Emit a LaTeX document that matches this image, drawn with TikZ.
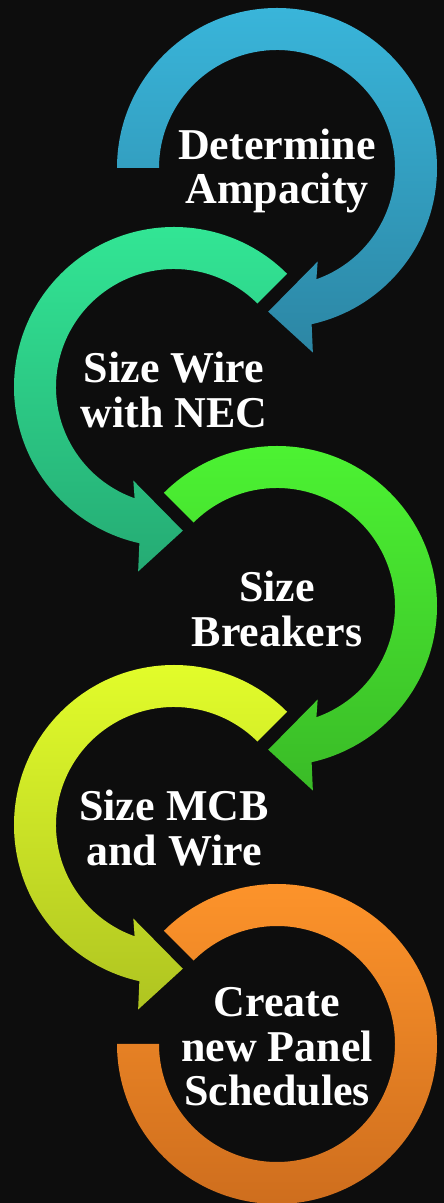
\documentclass[tikz,border=0pt]{standalone}
\usepackage{fontspec}
\setmainfont{Liberation Serif}
\begin{document}
\begin{tikzpicture}[x=1pt,y=1pt,
  lbl/.style={text=white, align=center, font=\bfseries\fontsize{44}{44.5}\selectfont, inner sep=0pt, yshift=-3pt},
  ringblue/.style={top color=blueT, bottom color=blueB, draw=none},
  ringteal/.style={top color=tealT, bottom color=tealB, draw=none},
  ringgreen/.style={top color=greenT, bottom color=greenB, draw=none},
  ringyellow/.style={top color=yellowT, bottom color=yellowB, draw=none},
  ringorange/.style={top color=orangeT, bottom color=orangeB, draw=none}]
\definecolor{bg}{HTML}{0D0D0D}
\definecolor{blueT}{HTML}{39B5DA}\definecolor{blueB}{HTML}{2C86A4}
\definecolor{tealT}{HTML}{33E896}\definecolor{tealB}{HTML}{25AB74}
\definecolor{greenT}{HTML}{4DF533}\definecolor{greenB}{HTML}{3ABB27}
\definecolor{yellowT}{HTML}{E4FF2B}\definecolor{yellowB}{HTML}{AFC421}
\definecolor{orangeT}{HTML}{FF952B}\definecolor{orangeB}{HTML}{CC6C1D}

% background and page frame
\fill[bg] (0,0) rectangle (444,1203);
\useasboundingbox (0,0) rectangle (444,1203);

% ring centres
\coordinate (c1) at (277,1035);
\coordinate (c2) at (174,816);
\coordinate (c3) at (277,597);
\coordinate (c4) at (174,378);
\coordinate (c5) at (277,159);

% step 1: clockwise from the left, head at lower left
\begin{scope}[shift={(c1)}]
\path[ringblue] (180:118) -- (180:160) arc[start angle=180,end angle=-77.5,radius=160pt]
  -- (-79:188) -- (-93.5:144) -- (-66.5:102) -- (-70.5:118)
  arc[start angle=-70.5,end angle=180,radius=118pt] -- cycle;
\end{scope}

% step 2: anticlockwise from upper right, head at lower right
\begin{scope}[shift={(c2)}]
\path[ringteal] (45:118) -- (45:160) arc[start angle=45,end angle=257.5,radius=160pt]
  -- (259:188) -- (273.5:144) -- (246.5:102) -- (250.5:118)
  arc[start angle=250.5,end angle=45,radius=118pt] -- cycle;
\end{scope}

% step 3: clockwise from upper left, head at lower left
\begin{scope}[shift={(c3)}]
\path[ringgreen] (135:118) -- (135:160) arc[start angle=135,end angle=-77.5,radius=160pt]
  -- (-79:188) -- (-93.5:144) -- (-66.5:102) -- (-70.5:118)
  arc[start angle=-70.5,end angle=135,radius=118pt] -- cycle;
\end{scope}

% step 4: anticlockwise from upper right, head at lower right
\begin{scope}[shift={(c4)}]
\path[ringyellow] (45:118) -- (45:160) arc[start angle=45,end angle=257.5,radius=160pt]
  -- (259:188) -- (273.5:144) -- (246.5:102) -- (250.5:118)
  arc[start angle=250.5,end angle=45,radius=118pt] -- cycle;
\end{scope}

% step 5: open ring, clockwise from upper left to the left
\begin{scope}[shift={(c5)}]
\path[ringorange] (135:118) -- (135:160) arc[start angle=135,end angle=-180,radius=160pt]
  -- (-180:118) arc[start angle=-180,end angle=135,radius=118pt] -- cycle;
\end{scope}

% labels
\node[lbl] (t1) at (c1) {Determine\\Ampacity};
\node[lbl] (t2) at (c2) {Size Wire\\with NEC};
\node[lbl] (t3) at (c3) {Size\\Breakers};
\node[lbl] (t4) at (c4) {Size MCB\\and Wire};
\node[lbl] (t5) at (c5) {Create\\new Panel\\Schedules};
\end{tikzpicture}
\end{document}
